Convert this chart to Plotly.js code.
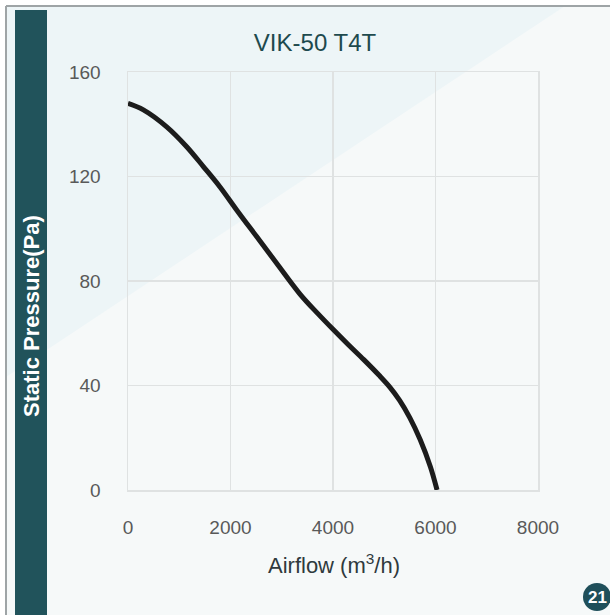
<!DOCTYPE html>
<html>
<head>
<meta charset="utf-8">
<script src="https://cdn.plot.ly/plotly-3.0.1.min.js"></script>
<style>html,body{margin:0;padding:0;background:#fff;}#chart{width:610px;height:615px;}</style>
</head>
<body>
<div id="chart"></div>
<script>
// Data
const chartTitle = "VIK-50 T4T";
const xTitle = "Airflow (m<sup>3</sup>/h)";
const yTitle = "Static Pressure(Pa)";
const badgeText = "21";
const airflow = [0, 300, 755, 1145, 1470, 1795, 2120, 2510, 2900, 3356, 3700, 4000, 4300, 4600, 4900, 5112, 5300, 5500, 5700, 5900, 6030];
const pressure = [148, 145.5, 139, 131.4, 123.8, 116, 107.2, 97, 86.8, 75, 67.6, 61.5, 55.6, 49.9, 43.9, 39.3, 34.3, 27.6, 19.3, 8.9, 0];
const xTicks = [0, 2000, 4000, 6000, 8000];
const yTicks = [0, 40, 80, 120, 160];

// plot area geometry (pixels)
const L = 128, R = 538, T = 72, B = 490, W = 610, H = 615;
const px = v => (v - L) / (R - L);
const py = v => (B - v) / (B - T);

const trace = {
  x: airflow, y: pressure, type: 'scatter', mode: 'lines',
  line: {color: '#1c1c1c', width: 5, shape: 'spline', smoothing: 1},
  hoverinfo: 'skip'
};

const shapes = [
  // light lower-right background
  {type:'rect', xref:'paper', yref:'paper', x0:px(6), x1:px(W), y0:py(H), y1:py(6), fillcolor:'#f6f9f9', line:{width:0}, layer:'below'},
  // bluish upper-left triangle
  {type:'path', xref:'paper', yref:'paper', layer:'below', line:{width:0}, fillcolor:'#edf5f7',
   path:`M ${px(6)} ${py(6)} L ${px(565)} ${py(6)} L ${px(6)} ${py(377)} Z`},
  // outer border lines
  {type:'line', xref:'paper', yref:'paper', x0:px(6), x1:px(6), y0:py(6), y1:py(H), line:{color:'#9ea4a6', width:2}, layer:'below'},
  {type:'line', xref:'paper', yref:'paper', x0:px(6), x1:px(W), y0:py(6), y1:py(6), line:{color:'#9ea4a6', width:2}, layer:'below'},
  // dark band
  {type:'rect', xref:'paper', yref:'paper', x0:px(15), x1:px(47), y0:py(H), y1:py(10), fillcolor:'#21535b', line:{width:0}, layer:'below'},
  // badge
  {type:'circle', xref:'paper', yref:'paper', x0:px(583), x1:px(611), y0:py(611), y1:py(583), fillcolor:'#1f4f5a', line:{width:0}, layer:'above'}
];

const tickFont = {size: 19, color: '#595959', family: 'Liberation Sans, Arial, sans-serif'};

const layout = {
  width: W, height: H,
  margin: {l: L, r: W - R, t: T, b: H - B},
  paper_bgcolor: '#ffffff',
  plot_bgcolor: 'rgba(0,0,0,0)',
  font: {family: 'Liberation Sans, Arial, sans-serif', color: '#555'},
  showlegend: false,
  title: {text: chartTitle, x: px(315), xref: 'paper', xanchor: 'center', y: 1 - 43/H, yanchor: 'middle',
          font: {size: 24, color: '#1e4a4e', family: 'Liberation Sans, Arial, sans-serif'}},
  xaxis: {range: [0, 8000], tickvals: xTicks, ticktext: xTicks.map(String), showgrid: true, gridcolor: '#dfe2e2', gridwidth: 1.5,
          zeroline: false, showline: true, mirror: true, linecolor: '#dfe2e2', linewidth: 1.5, ticks: '',
          ticklabelstandoff: 20, tickfont: tickFont, fixedrange: true},
  yaxis: {range: [0, 160], tickvals: yTicks, ticktext: yTicks.map(String), showgrid: true, gridcolor: '#dfe2e2', gridwidth: 1.5,
          zeroline: false, showline: true, mirror: true, linecolor: '#dfe2e2', linewidth: 1.5, ticks: '',
          ticklabelstandoff: 22, tickfont: tickFont, fixedrange: true},
  shapes: shapes,
  annotations: [
    {text: '<b>' + yTitle + '</b>', xref: 'paper', yref: 'paper', x: px(31), y: py(316), textangle: -90,
     showarrow: false, font: {size: 22, color: '#ffffff'}, xanchor: 'center', yanchor: 'middle'},
    {text: xTitle, xref: 'paper', yref: 'paper', x: px(334), y: py(564), showarrow: false,
     font: {size: 22, color: '#2f3a3d'}, xanchor: 'center', yanchor: 'middle'},
    {text: '<b>' + badgeText + '</b>', xref: 'paper', yref: 'paper', x: px(597), y: py(597), showarrow: false,
     font: {size: 17, color: '#ffffff'}, xanchor: 'center', yanchor: 'middle'}
  ]
};

Plotly.newPlot('chart', [trace], layout, {displayModeBar: false, staticPlot: true});
</script>
</body>
</html>
